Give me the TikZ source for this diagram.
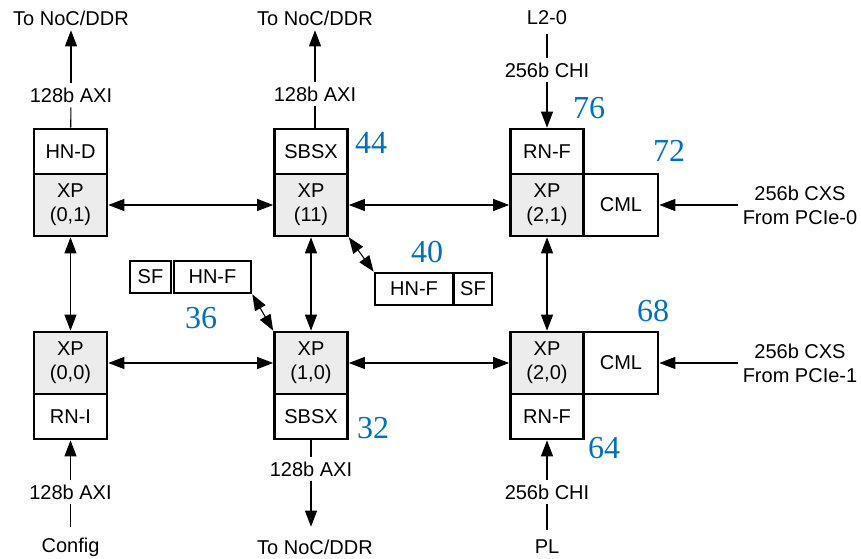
\documentclass[tikz,border=0pt]{standalone}
\usepackage{fontspec}
\setmainfont{Liberation Sans}
\newfontfamily\numfont{Liberation Serif}
\usetikzlibrary{arrows.meta}
\definecolor{numblue}{RGB}{0,112,192}

\begin{document}
\begin{tikzpicture}[x=0.75pt, y=-0.75pt, line width=0.8pt,
    >={Triangle[length=12pt, width=9pt]},
    every node/.style={font=\fontsize{15}{18}\selectfont},
    xp/.style={draw, line width=2pt, fill=gray!15, minimum width=54.75pt,
        minimum height=46.5pt, inner sep=0pt, align=center},
    blk/.style={draw, line width=2pt, fill=white, minimum width=54.75pt,
        minimum height=33.75pt, inner sep=0pt},
    hnbox/.style={draw, line width=2pt, fill=white, minimum height=24pt, inner sep=0pt},
    num/.style={text=numblue, font=\numfont\fontsize{24}{24}\selectfont}]

    % Page area (pixel grid of the original figure)
    \useasboundingbox (0,0) rectangle (861,559);

    % Cross points of the 3x2 mesh
    \foreach \nm/\x/\y/\xy in {xp01/70.5/205/{(0,1)}, xp11/311/205/{(11)},
        xp21/547/205/{(2,1)}, xp00/70.5/363/{(0,0)}, xp10/311/363/{(1,0)},
        xp20/547/363/{(2,0)}} {
        \node[xp] (\nm) at (\x,\y) {XP\\\xy};
    }

    % Devices attached to the cross points
    \node[blk] (hnd) at (70.5,151.5) {HN-D};
    \node[blk] (sbsxT) at (311,151.5) {SBSX};
    \node[blk] (rnfT) at (547,151.5) {RN-F};
    \node[blk, minimum width=55.5pt, minimum height=46.5pt] (cmlT) at (621,205) {CML};
    \node[blk, minimum width=55.5pt, minimum height=46.5pt] (cmlB) at (621,363) {CML};
    \node[blk] (rni) at (70.5,416.5) {RN-I};
    \node[blk] (sbsxB) at (311,416.5) {SBSX};
    \node[blk] (rnfB) at (547,416.5) {RN-F};

    % Home nodes with snoop filters
    \node[hnbox, minimum width=30.75pt] (sfL) at (150.5,277) {SF};
    \node[hnbox, minimum width=57.75pt] (hnfL) at (212.5,277) {HN-F};
    \node[hnbox, minimum width=58.5pt] (hnfR) at (414,289) {HN-F};
    \node[hnbox, minimum width=28.5pt] (sfR) at (473,289) {SF};

    % Mesh links
    \draw[<->] (xp01) -- (xp11);
    \draw[<->] (xp11) -- (xp21);
    \draw[<->] (xp00) -- (xp10);
    \draw[<->] (xp10) -- (xp20);
    \draw[<->] (xp01) -- (xp00);
    \draw[<->] (xp11) -- (xp10);
    \draw[<->] (xp21) -- (xp20);
    \draw[<->] (xp11.south east) -- (hnfR.north west);
    \draw[<->] (hnfL.south east) -- (xp10.north west);

    % Top ports
    \node (nocA) at (71,18) {To NoC/DDR};
    \node (axiA) at (71,95) {128b AXI};
    \draw (hnd) -- (axiA);
    \draw[->] (axiA) -- (nocA);

    \node (nocB) at (315,18) {To NoC/DDR};
    \node (axiB) at (315,94) {128b AXI};
    \draw (axiB) -- (axiB |- sbsxT.north);
    \draw[->] (axiB) -- (nocB);

    \node (l2) at (547,18) {L2-0};
    \node (chiT) at (547,70) {256b CHI};
    \draw[shorten <=3pt] (l2) -- (chiT);
    \draw[->] (chiT) -- (rnfT);

    % PCIe ports on the right
    \node[align=center] (cxsT) at (800,205) {256b CXS\\From PCIe-0};
    \draw[->] (cxsT) -- (cmlT);
    \node[align=center] (cxsB) at (800,363) {256b CXS\\From PCIe-1};
    \draw[->] (cxsB) -- (cmlB);

    % Bottom ports
    \node (cfg) at (70.5,547) {Config};
    \node (axiC) at (70.5,492) {128b AXI};
    \draw[shorten <=4pt] (cfg) -- (axiC);
    \draw[->] (axiC) -- (rni);

    \node (nocC) at (315,547) {To NoC/DDR};
    \node (axiD) at (311,469) {128b AXI};
    \draw (sbsxB) -- (axiD);
    \draw[->, shorten >=6pt] (axiD) -- (axiD |- nocC.north);

    \node (pl) at (547,547) {PL};
    \node (chiB) at (547,492) {256b CHI};
    \draw[shorten <=4pt] (pl) -- (chiB);
    \draw[->] (chiB) -- (rnfB);

    % Node IDs
    \node[num] (id44) at (371,143) {44};
    \node[num] (id76) at (589,108) {76};
    \node[num] (id72) at (669,151) {72};
    \node[num] (id40) at (427,252) {40};
    \node[num] (id36) at (201,318) {36};
    \node[num] (id68) at (653,311) {68};
    \node[num] (id32) at (373,428) {32};
    \node[num] (id64) at (604,448) {64};
\end{tikzpicture}
\end{document}
